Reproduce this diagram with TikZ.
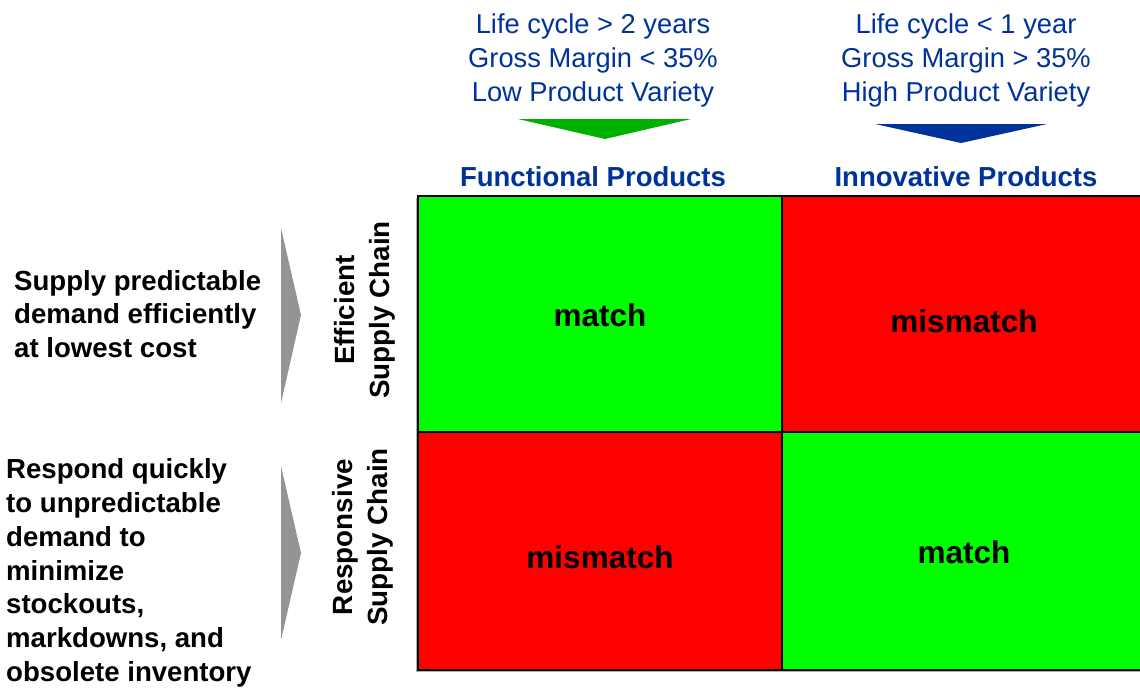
\documentclass[tikz,border=0pt]{standalone}
\usepackage{fontspec}
\setmainfont{Liberation Sans}
\definecolor{hdrblue}{HTML}{003399}
\definecolor{arrgreen}{HTML}{00B000}
\definecolor{cellgreen}{HTML}{00FF00}
\definecolor{cellred}{HTML}{FF0000}
\definecolor{arrgrey}{HTML}{949494}
\begin{document}
\begin{tikzpicture}[x=1pt,y=-1pt,
  toptext/.style={align=center,text=hdrblue,inner sep=0pt,font=\fontsize{27.3}{34}\selectfont},
  colhead/.style={text=hdrblue,inner sep=0pt,font=\bfseries\fontsize{27.5}{34}\selectfont},
  sidetext/.style={align=left,inner sep=0pt,anchor=west,font=\bfseries\fontsize{27.6}{33.8}\selectfont},
  rowhead/.style={align=center,inner sep=0pt,rotate=90,font=\bfseries\fontsize{27.8}{35}\selectfont},
  cell/.style={draw=black,line width=1.6pt},
  celltext/.style={inner sep=0pt,font=\bfseries\fontsize{31.5}{36}\selectfont}]
\useasboundingbox (0,0) rectangle (1140,688);
% shadow of grid
\fill[gray!60] (416,198) rectangle (1142,672);
% cells
\filldraw[cell,fill=cellgreen] (418,196) rectangle (782,432);
\filldraw[cell,fill=cellred] (782,196) rectangle (1143,432);
\filldraw[cell,fill=cellred] (418,432) rectangle (782,670);
\filldraw[cell,fill=cellgreen] (782,432) rectangle (1143,670);
\node[celltext] (m1) at (600,315) {match};
\node[celltext] (m2) at (964,321) {mismatch};
\node[celltext] (m3) at (600,557) {mismatch};
\node[celltext] (m4) at (964,552) {match};
% top texts
\node[toptext] (t1) at (593,60.5) {Life cycle > 2 years\\Gross Margin < 35\%\\Low Product Variety};
\node[toptext] (t2) at (966,60.5) {Life cycle < 1 year\\Gross Margin > 35\%\\High Product Variety};
\fill[arrgreen] (518,119) -- (691,119) -- (605,139) -- cycle;
\fill[hdrblue] (875,124) -- (1047,124) -- (961,143) -- cycle;
\node[colhead] (h1) at (593,177) {Functional Products};
\node[colhead] (h2) at (966,177) {Innovative Products};
% row heads
\node[rowhead] (r1) at (365,310) {Efficient\\Supply Chain};
\node[rowhead] (r2) at (363,537) {Responsive\\Supply Chain};
% grey arrows
\fill[arrgrey] (281,228) -- (301,315) -- (281,403) -- cycle;
\fill[arrgrey] (281,466) -- (301,553) -- (281,640) -- cycle;
% side texts
\node[sidetext] (s1) at (14,314) {Supply predictable\\demand efficiently\\at lowest cost};
\node[sidetext] (s2) at (6,573) {Respond quickly\\to unpredictable\\demand to\\minimize\\stockouts,\\markdowns, and\\obsolete inventory};
\end{tikzpicture}
\end{document}
